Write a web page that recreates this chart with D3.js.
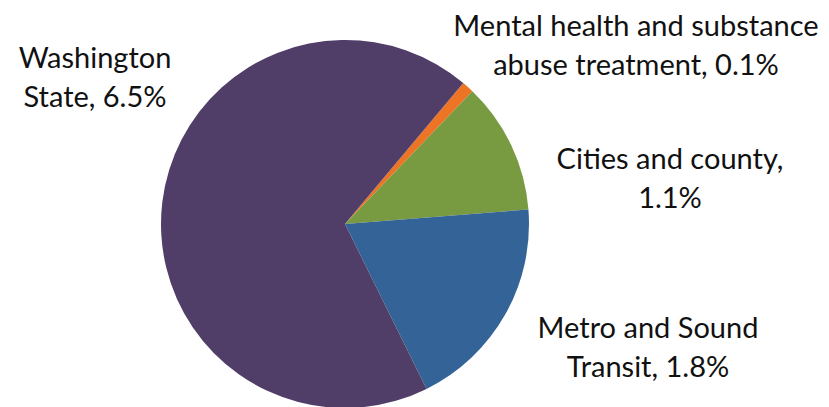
<!DOCTYPE html>
<html>
<head>
<meta charset="utf-8">
<script src="https://cdn.jsdelivr.net/npm/d3@7"></script>
<style>
  body { margin: 0; background: #fff; }
  text { font-family: Lato, "Open Sans", sans-serif; fill: #111; }
</style>
</head>
<body>
<div id="chart"></div>
<script>
// data
var categories = ["Mental health and substance abuse treatment", "Cities and county", "Metro and Sound Transit", "Washington State"];
var values = [0.1, 1.1, 1.8, 6.5];
var colors = ["#ec7424", "#789a40", "#346497", "#503e68"];
var labelLines = [
  ["Mental health and substance", "abuse treatment, 0.1%"],
  ["Cities and county,", "1.1%"],
  ["Metro and Sound", "Transit, 1.8%"],
  ["Washington", "State, 6.5%"]
];

// layout
var width = 829, height = 407;
var cx = 345, cy = 224, radius = 184;
var labelPos = [[636, 36], [670, 169], [648, 338], [95, 68]];

var svg = d3.select("#chart")
  .append("svg")
    .attr("width", width)
    .attr("height", height);

var data = categories.map(function(c, i) { return {name: c, value: values[i], i: i}; });

var pie = d3.pie()
  .sort(null)
  .value(function(d) { return d.value; })
  .startAngle(40 * Math.PI / 180)
  .endAngle(400 * Math.PI / 180);

var arc = d3.arc().innerRadius(0).outerRadius(radius);

var g = svg.append("g")
  .attr("transform", "translate(" + cx + "," + cy + ")");

g.selectAll("path")
  .data(pie(data))
  .enter()
  .append("path")
    .attr("d", arc)
    .style("fill", function(d) { return colors[d.data.i]; });

// labels
var labels = svg.selectAll("text.lbl")
  .data(data)
  .enter()
  .append("text")
    .attr("class", "lbl")
    .attr("text-anchor", "middle")
    .style("font-size", "29px")
    .attr("x", function(d) { return labelPos[d.i][0]; })
    .attr("y", function(d) { return labelPos[d.i][1]; });

labels.selectAll("tspan")
  .data(function(d) { return labelLines[d.i].map(function(t) { return {t: t, x: labelPos[d.i][0]}; }); })
  .enter()
  .append("tspan")
    .attr("x", function(d) { return d.x; })
    .attr("dy", function(d, j) { return j === 0 ? 0 : 39; })
    .text(function(d) { return d.t; });
</script>
</body>
</html>
